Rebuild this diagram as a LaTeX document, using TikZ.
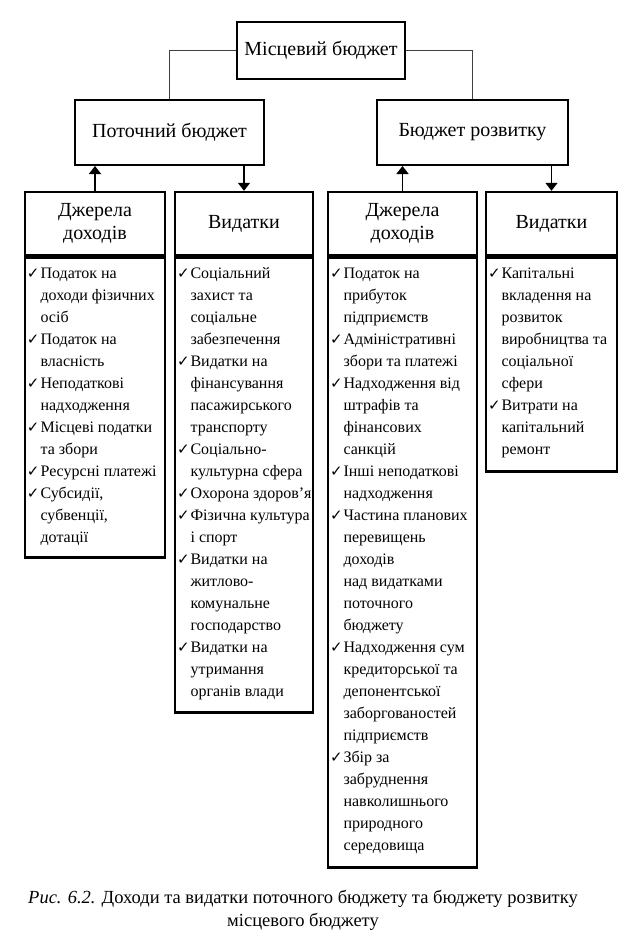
\documentclass[tikz,border=0pt]{standalone}
\usepackage{fontspec}
\setmainfont{Liberation Serif}
\newfontfamily\checkfont{DejaVu Sans}
\usetikzlibrary{arrows.meta,positioning}
\newcommand{\chk}{{\checkfont\fontsize{15}{15}\selectfont ✓}}
\newcommand{\colbody}[3]{\begin{minipage}[c][#1pt][t]{#2pt}\vspace*{6pt}\fontsize{16}{22}\selectfont
\begin{tabular}{@{}l@{\hspace{1pt}}l@{}}#3\end{tabular}\end{minipage}}

\begin{document}
\begin{tikzpicture}[x=1pt,y=-1pt,
  topbox/.style={draw,line width=2.6pt,inner sep=0pt,font=\fontsize{20}{24}\selectfont},
  midbox/.style={draw,line width=2pt,inner sep=0pt,font=\fontsize{20}{24}\selectfont},
  headbox/.style={draw,line width=2.4pt,inner sep=0pt,minimum height=63pt,align=center,font=\fontsize{20}{23}\selectfont},
  bodybox/.style={draw,line width=2.4pt,inner xsep=2pt,inner ysep=0pt,anchor=north},
  link/.style={line width=1pt,black!75},
  arr/.style={line width=1.6pt,-{Triangle[length=8pt,width=12pt]}}]
\useasboundingbox (0,0) rectangle (625,939);

\node[topbox,minimum width=168pt,minimum height=57pt] (mb) at (321,50.5) {Місцевий бюджет};
\node[midbox,minimum width=189pt,minimum height=65pt] (pb) at (169.5,132.5) {Поточний бюджет};
\node[midbox,minimum width=191pt,minimum height=65pt] (br) at (472.5,132.5) {Бюджет розвитку};

\draw[link] (mb.west) -| (pb.north);
\draw[link] (mb.east) -| (br.north);

\node[headbox,minimum width=140pt] (h1) at (95,223.5) {Джерела\\доходів};
\node[headbox,minimum width=138pt] (h2) at (244,223.5) {Видатки};
\node[headbox,minimum width=149pt] (h3) at (402.5,223.5) {Джерела\\доходів};
\node[headbox,minimum width=131pt] (h4) at (551.5,223.5) {Видатки};

\node[bodybox] (b1) at (h1.south) {\colbody{300}{136}{
\chk & Податок на\\ & доходи фізичних\\ & осіб\\
\chk & Податок на\\ & власність\\
\chk & Неподаткові\\ & надходження\\
\chk & Місцеві податки\\ & та збори\\
\chk & Ресурсні платежі\\
\chk & Субсидії,\\ & субвенції,\\ & дотації}};

\node[bodybox] (b2) at (h2.south) {\colbody{455}{134}{
\chk & Соціальний\\ & захист та\\ & соціальне\\ & забезпечення\\
\chk & Видатки на\\ & фінансування\\ & пасажирського\\ & транспорту\\
\chk & Соціально-\\ & культурна сфера\\
\chk & Охорона здоров’я\\
\chk & Фізична культура\\ & і спорт\\
\chk & Видатки на\\ & житлово-\\ & комунальне\\ & господарство\\
\chk & Видатки на\\ & утримання\\ & органів влади}};

\node[bodybox] (b3) at (h3.south) {\colbody{610}{145}{
\chk & Податок на\\ & прибуток\\ & підприємств\\
\chk & Адміністративні\\ & збори та платежі\\
\chk & Надходження від\\ & штрафів та\\ & фінансових\\ & санкцій\\
\chk & Інші неподаткові\\ & надходження\\
\chk & Частина планових\\ & перевищень\\ & доходів\\ & над видатками\\ & поточного\\ & бюджету\\
\chk & Надходження сум\\ & кредиторської та\\ & депонентської\\ & заборгованостей\\ & підприємств\\
\chk & Збір за\\ & забруднення\\ & навколишнього\\ & природного\\ & середовища}};

\node[bodybox] (b4) at (h4.south) {\colbody{214}{127}{
\chk & Капітальні\\ & вкладення на\\ & розвиток\\ & виробництва та\\ & соціальної\\ & сфери\\
\chk & Витрати на\\ & капітальний\\ & ремонт}};

\draw[arr] (h1.north) -- (h1.north |- pb.south);
\draw[arr] (h2.north |- pb.south) -- (h2.north);
\draw[arr] (h3.north) -- (h3.north |- br.south);
\draw[arr] (h4.north |- br.south) -- (h4.north);

\node[align=center,font=\fontsize{18.5}{23}\selectfont] (cap) at (303,910)
  {\textit{Рис. 6.2.} Доходи та видатки поточного бюджету та бюджету розвитку\\місцевого бюджету};
\end{tikzpicture}
\end{document}
